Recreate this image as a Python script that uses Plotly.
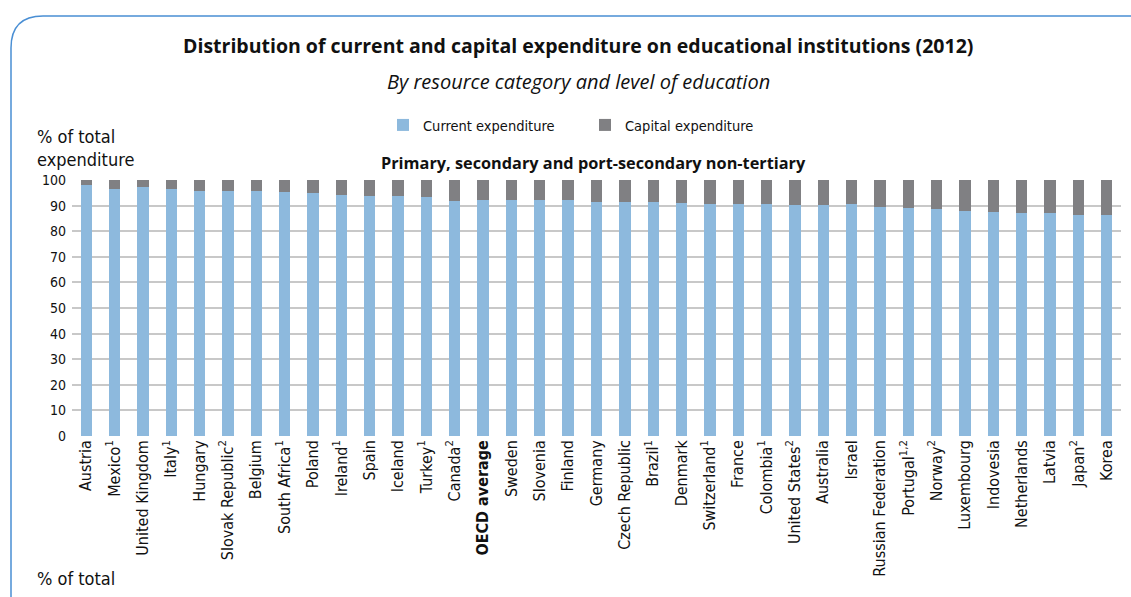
import plotly.graph_objects as go

countries = [
    "Austria", "Mexico<sup>1</sup>", "United Kingdom", "Italy<sup>1</sup>", "Hungary",
    "Slovak Republic<sup>2</sup>", "Belgium", "South Africa<sup>1</sup>", "Poland",
    "Ireland<sup>1</sup>", "Spain", "Iceland", "Turkey<sup>1</sup>", "Canada<sup>2</sup>",
    "<b>OECD average</b>", "Sweden", "Slovenia", "Finland", "Germany", "Czech Republic",
    "Brazil<sup>1</sup>", "Denmark", "Switzerland<sup>1</sup>", "France", "Colombia<sup>1</sup>",
    "United States<sup>2</sup>", "Australia", "Israel", "Russian Federation",
    "Portugal<sup>1,2</sup>", "Norway<sup>2</sup>", "Luxembourg", "Indovesia", "Netherlands",
    "Latvia", "Japan<sup>2</sup>", "Korea",
]

current = [
    97.9, 96.6, 97.1, 96.6, 95.8, 95.8, 95.8, 95.4, 95.1, 94.3, 93.9, 93.9, 93.5, 91.9,
    92.3, 92.3, 92.3, 92.3, 91.5, 91.5, 91.5, 91.1, 90.8, 90.8, 90.8, 90.4, 90.4, 90.8,
    89.6, 89.2, 88.8, 88.0, 87.6, 87.2, 87.2, 86.5, 86.5,
]
capital = [round(100 - v, 1) for v in current]

y_ticks = list(range(0, 101, 10))

BLUE = "#8db9dd"
GREY = "#808083"
FRAME = "#4a8fd4"
NARROW = "Liberation Sans Narrow, DejaVu Sans Condensed, Arial Narrow, sans-serif"
HEAD = "Open Sans, Noto Sans, sans-serif"

W, H = 1131, 597
ML, MR, MT, MB = 72, 10, 180, 161
PW, PH = W - ML - MR, H - MT - MB


def px(x):
    return (x - ML) / PW


def py(y):
    return (H - MB - y) / PH


fig = go.Figure()
fig.add_trace(go.Bar(x=countries, y=current, name="Current expenditure",
                     marker=dict(color=BLUE, line=dict(width=0))))
fig.add_trace(go.Bar(x=countries, y=capital, name="Capital expenditure",
                     marker=dict(color=GREY, line=dict(width=0))))

# rounded frame around the panel (top edge and left edge)
r = 32
frame_path = (
    f"M {px(11)} {py(597)} L {px(11)} {py(16 + r)} "
    f"Q {px(11)} {py(16)} {px(11 + r)} {py(16)} L {px(1131)} {py(16)}"
)

annotations = [
    dict(text="<b>Distribution of current and capital expenditure on educational institutions (2012)</b>",
         x=px(578), y=py(45), font=dict(family=HEAD, size=19.5, color="#111111")),
    dict(text="<i>By resource category and level of education</i>",
         x=px(578), y=py(81), font=dict(family=HEAD, size=20, color="#111111")),
    dict(text="<b>Primary, secondary and port-secondary non-tertiary</b>",
         x=px(593), y=py(163), font=dict(family=HEAD, size=16.3, color="#111111")),
    dict(text="% of total<br>expenditure", x=px(35), y=py(148), xanchor="left",
         align="left", font=dict(family=NARROW, size=18, color="#111111")),
    dict(text="% of total", x=px(35), y=py(578), xanchor="left",
         font=dict(family=NARROW, size=18, color="#111111")),
]
for a in annotations:
    a.setdefault("xanchor", "center")
    a.update(xref="paper", yref="paper", yanchor="middle", showarrow=False)

fig.update_layout(
    width=W, height=H,
    margin=dict(l=ML, r=MR, t=MT, b=MB, pad=0),
    barmode="stack", bargap=0.6,
    plot_bgcolor="white", paper_bgcolor="white",
    font=dict(family=NARROW, color="#111111"),
    showlegend=True,
    legend=dict(orientation="h", x=px(383), y=py(125), xanchor="left", yanchor="middle",
                font=dict(family=NARROW, size=14.5, color="#111111"),
                entrywidth=157, entrywidthmode="pixels", traceorder="normal",
                itemclick=False, itemdoubleclick=False),
    shapes=[dict(type="path", path=frame_path, xref="paper", yref="paper",
                 line=dict(color=FRAME, width=1.5))],
    annotations=annotations,
)
fig.update_xaxes(tickangle=-90, tickfont=dict(family=NARROW, size=16, color="#111111"),
                 showgrid=False, showline=False, ticks="", ticklen=0)
fig.update_yaxes(range=[0, 100], tickvals=y_ticks, showgrid=True, gridcolor="#c8c8c8",
                 gridwidth=2, zeroline=False, showline=False, ticks="",
                 ticklabelstandoff=5,
                 tickfont=dict(family=NARROW, size=14, color="#111111"))

fig.write_html("out.html")
